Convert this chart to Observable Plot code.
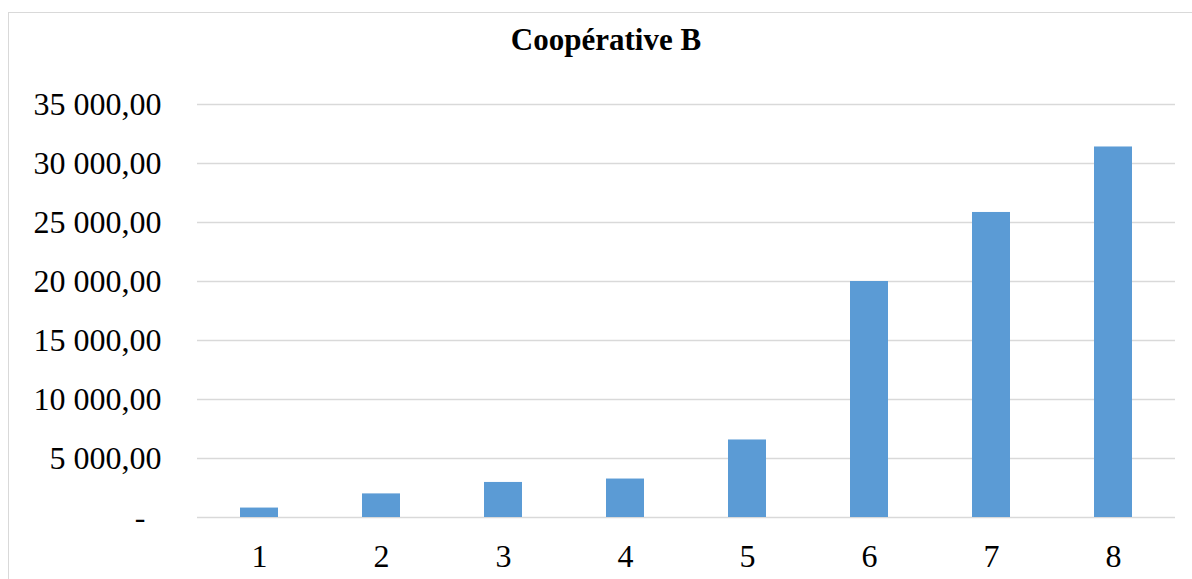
<!DOCTYPE html>
<html>
<head>
<meta charset="utf-8">
<script src="https://cdn.jsdelivr.net/npm/d3@7"></script>
<script src="https://cdn.jsdelivr.net/npm/@observablehq/plot@0.6"></script>
<style>
  html, body { margin: 0; padding: 0; background: #fff; }
  #wrap { position: relative; width: 1192px; height: 579px; overflow: hidden; background: #fff; }
  #frame { position: absolute; left: 8px; top: 12px; width: 1300px; height: 700px;
           border-left: 1.5px solid #d9d9d9; border-top: 1.5px solid #d9d9d9; box-sizing: border-box; }
  #title { position: absolute; left: 0; top: 0; width: 1192px; height: 80px; box-sizing: border-box;
           padding-left: 20px; text-align: center; font-family: 'Liberation Serif', 'Times New Roman', serif;
           font-weight: bold; font-size: 31px; line-height: 80px; color: #000; }
  #chart { position: absolute; left: 0; top: 80px; }
</style>
</head>
<body>
<div id="wrap">
  <div id="frame"></div>
  <div id="title">Coopérative B</div>
  <div id="chart"></div>
</div>
<script>
const categories = ["1", "2", "3", "4", "5", "6", "7", "8"];
const values = [800, 2000, 2970, 3260, 6570, 20000, 25850, 31400];
const yTicks = [0, 5000, 10000, 15000, 20000, 25000, 30000, 35000];

const data = categories.map((c, i) => ({category: c, value: values[i]}));
const fr = d3.formatLocale({decimal: ",", thousands: " ", grouping: [3]}).format(",.2f");

const chart = Plot.plot({
  width: 1192,
  height: 499,
  marginLeft: 197,
  marginRight: 17,
  marginTop: 24,
  marginBottom: 62,
  style: {fontFamily: "'Liberation Serif', 'Times New Roman', serif", fontSize: "32px", color: "#000", background: "transparent"},
  x: {domain: categories, paddingInner: 0.69, paddingOuter: 0.345, align: 0.5, axis: null},
  y: {domain: [0, 35000], axis: null},
  marks: [
    Plot.gridY(yTicks, {stroke: "#d9d9d9", strokeOpacity: 1, strokeWidth: 1.5}),
    Plot.barY(data, {x: "category", y: "value", fill: "#5b9bd5"}),
    Plot.axisY(yTicks.filter(t => t !== 0), {tickSize: 0, tickPadding: 36, tickFormat: fr, fill: "#000", fontSize: 32, label: null}),
    Plot.axisY([0], {tickSize: 0, tickPadding: 52, tickFormat: () => "-", fill: "#000", fontSize: 32, label: null}),
    Plot.axisX({tickSize: 0, tickPadding: 27, fill: "#000", fontSize: 32, label: null})
  ]
});
document.getElementById("chart").appendChild(chart);
</script>
</body>
</html>
